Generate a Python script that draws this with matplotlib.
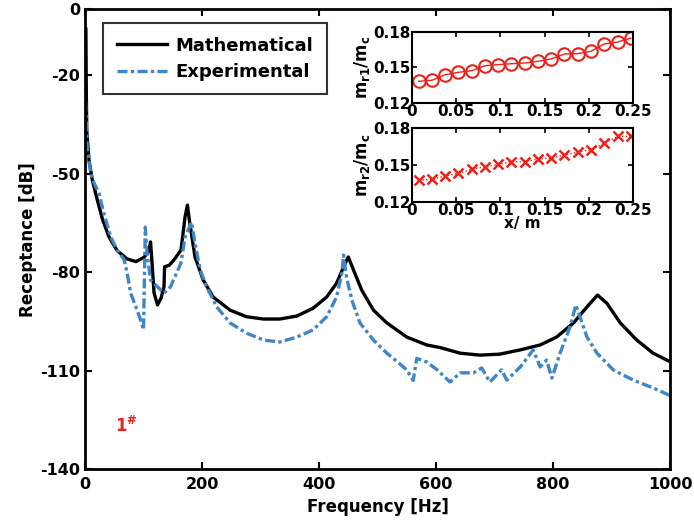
import matplotlib
matplotlib.use("Agg")
import matplotlib.pyplot as plt

plt.rcParams['font.family'] = 'DejaVu Sans'
plt.rcParams['font.weight'] = 'bold'
plt.rcParams['mathtext.default'] = 'bf'
plt.rcParams['axes.unicode_minus'] = False

# main FRF curves
math_freq = [1.5, 2.2, 3, 6.8, 12.5, 21, 30, 41, 55, 72, 87, 101, 109, 112, 115, 118,
             124, 130, 135, 136, 144, 152, 164, 171, 175, 179, 188, 202, 219, 248, 276,
             305, 333, 362, 390, 413, 430, 442, 450, 459, 473, 493, 516, 550, 584, 607,
             641, 675, 709, 744, 778, 806, 835, 858, 876, 892, 915, 943, 971, 1000]
math_db = [-6, -25, -37, -45.9, -52, -58, -64, -69.3, -73.5, -76, -76.8, -75.5, -73.5,
           -70.8, -78.4, -86.4, -90, -87.9, -84.5, -78.4, -77.9, -76.3, -73.3, -63.2,
           -59.6, -65, -75.4, -82.4, -87.6, -91.6, -93.6, -94.3, -94.3, -93.4, -91,
           -87.6, -83.4, -78.4, -75.4, -79.4, -85.5, -91.6, -95.5, -99.8, -102.2, -103,
           -104.7, -105.3, -105, -103.7, -102.2, -99.8, -95.5, -90.6, -87, -89.5, -95.5,
           -100.7, -104.7, -107.3]

exp_freq = [0.8, 4, 10, 15.4, 24, 32, 44, 55, 67, 72, 78, 87, 95, 100, 103, 106, 112,
            124, 135, 146, 164, 171, 182, 188, 197, 208, 225, 248, 276, 305, 333, 362,
            390, 413, 430, 439, 442, 447, 456, 470, 493, 516, 535, 550, 561, 567, 584,
            602, 624, 641, 664, 678, 692, 712, 721, 744, 766, 778, 789, 798, 812, 829,
            839, 846, 858, 875, 903, 937, 971, 1000]
exp_db = [-28, -42.8, -50, -52.8, -56, -62, -69.3, -73.3, -76.3, -80.3, -86.4, -90.6,
          -94.6, -97.6, -66.3, -74.2, -82.4, -84.5, -86.4, -84.5, -77.3, -69.3, -64.8,
          -71.2, -79.4, -84.5, -90.6, -95.5, -98.6, -100.7, -101.3, -99.8, -97.6, -93.6,
          -87.6, -80.3, -74.8, -81.5, -88.5, -95.5, -100.7, -104.7, -107.5, -109.8,
          -113, -106.3, -107.4, -109.8, -113.5, -110.7, -110.7, -109.2, -113.5, -109.8,
          -112.9, -108.9, -103.7, -108.9, -106.8, -112.3, -104.7, -96.7, -90, -93.6,
          -99.8, -104.7, -109.8, -112.9, -115.3, -117.6]

# inset data
pos_x = [0.0075, 0.0225, 0.0375, 0.0525, 0.0675, 0.0825, 0.0975, 0.1125, 0.1275,
         0.1425, 0.1575, 0.1725, 0.1875, 0.2025, 0.2175, 0.2325, 0.2475]
mr1 = [0.1383, 0.1392, 0.1439, 0.1459, 0.1473, 0.1515, 0.1524, 0.1532, 0.1538,
       0.1552, 0.1572, 0.1614, 0.1617, 0.1637, 0.1699, 0.1715, 0.1749]
mr2 = [0.1377, 0.1383, 0.1413, 0.1432, 0.1465, 0.1486, 0.1505, 0.1527, 0.1527,
       0.1549, 0.1555, 0.1582, 0.1604, 0.1623, 0.1677, 0.1732, 0.1732]

blue = '#3f86c8'
red = '#e8231b'

fig = plt.figure(figsize=(6.94, 5.27), dpi=100)
ax = fig.add_axes([0.1225, 0.110, 0.843, 0.872])
ax.plot(math_freq, math_db, color='black', lw=2.4, label='Mathematical')
ax.plot(exp_freq, exp_db, color=blue, lw=2.4, ls=(0, (3, 1, 1, 1)), label='Experimental')
ax.set_xlim(0, 1000)
ax.set_ylim(-140, 0)
ax.set_xticks([0, 200, 400, 600, 800, 1000])
ax.set_yticks([-140, -110, -80, -50, -20, 0])
ax.tick_params(direction='in', top=True, right=True, labelsize=11.5, width=1.5, length=5)
ax.tick_params(axis='x', pad=6)
for s in ax.spines.values():
    s.set_linewidth(2)
ax.set_xlabel('Frequency [Hz]', fontsize=12, fontweight='bold', labelpad=4)
ax.set_ylabel('Receptance [dB]', fontsize=12, fontweight='bold', labelpad=2)
leg = ax.legend(loc='upper left', bbox_to_anchor=(0.031, 0.97), fontsize=13, frameon=True,
                fancybox=False, edgecolor='black', handlelength=2.8, handletextpad=0.45,
                borderpad=0.75, labelspacing=0.45, borderaxespad=0)
leg.get_frame().set_linewidth(1.5)
ax.text(51, -127, r'$1^{\#}$', color=red, fontsize=12, ha='left', va='center')

# insets
ax1 = fig.add_axes([0.5937, 0.8046, 0.3184, 0.1347])
ax1.plot(pos_x, mr1, color=red, lw=1, marker='o', ms=9, mfc='none', mew=1.5)
ax2 = fig.add_axes([0.5937, 0.6167, 0.3184, 0.1404])
ax2.plot(pos_x, mr2, color=red, lw=1, ls=':', marker='x', ms=7, mew=1.8)
for a in (ax1, ax2):
    a.set_xlim(0, 0.25)
    a.set_ylim(0.12, 0.18)
    a.set_xticks([0, 0.05, 0.1, 0.15, 0.2, 0.25])
    a.set_xticklabels(['0', '0.05', '0.1', '0.15', '0.2', '0.25'])
    a.set_yticks([0.12, 0.15, 0.18])
    a.set_yticklabels(['0.12', '0.15', '0.18'])
    a.tick_params(direction='in', top=True, right=True, labelsize=11, pad=1, width=1.2)
    for s in a.spines.values():
        s.set_linewidth(1.5)
ax1.set_ylabel(r'$m_{r1}/m_c$', fontsize=12, labelpad=1)
ax2.set_ylabel(r'$m_{r2}/m_c$', fontsize=12, labelpad=1)
ax2.set_xlabel('x/ m', fontsize=11, fontweight='bold', labelpad=-2)

plt.savefig('out.png', dpi=100)
